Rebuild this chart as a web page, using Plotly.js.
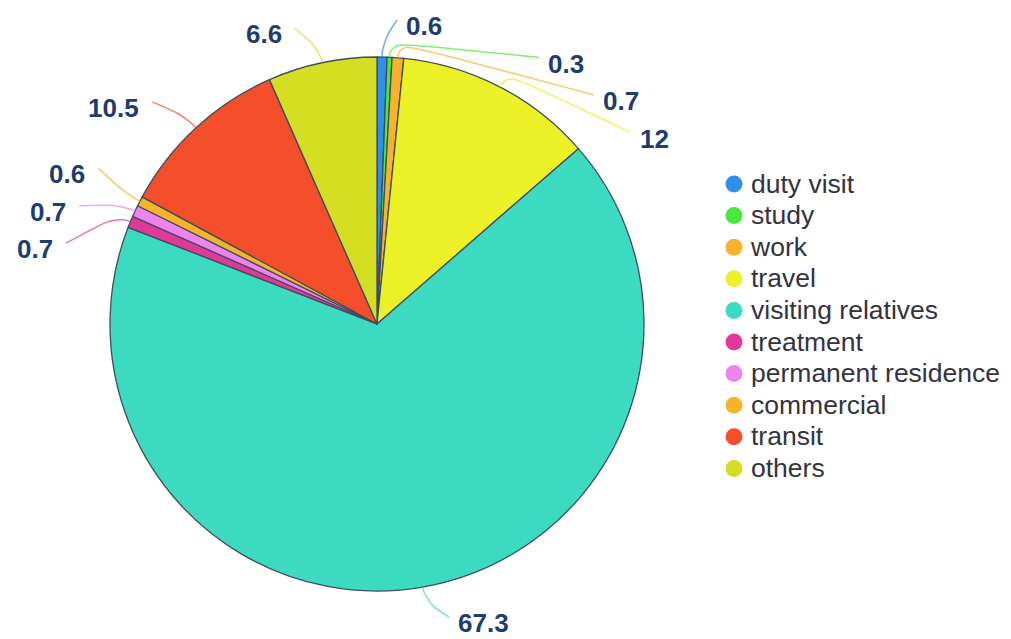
<!DOCTYPE html>
<html><head><meta charset="utf-8">
<script src="https://cdn.plot.ly/plotly-3.0.1.min.js"></script>
<style>html,body{margin:0;padding:0;background:#fff}#chart{width:1011px;height:639px}</style>
</head><body><div id="chart"></div>
<script>
// ---- data ----
const categories = ["duty visit","study","work","travel","visiting relatives","treatment","permanent residence","commercial","transit","others"];
const values = [0.6, 0.3, 0.7, 12, 67.3, 0.7, 0.7, 0.6, 10.5, 6.6];
const valueLabels = ["0.6","0.3","0.7","12","67.3","0.7","0.7","0.6","10.5","6.6"];
const colors = ["#2f8fe9","#4ae83c","#f7b42b","#ecf026","#3cdbc1","#e1399a","#ee83ee","#f7b42b","#f44f2a","#d4de22"];

// ---- layout constants ----
const W = 1011, H = 639;
const CX = 377, CY = 324, R = 267;
const LEN1 = 15, LABEL_R = R + 35, LEN2 = 20, GAP = 37.5, TOP = 20, BOTTOM = H - 22, SMOOTH = 0.6, BIAS = 0.12;
const LEG_X = 734, LEG_Y0 = 184, LEG_DY = 31.6;

const total = values.reduce((a, b) => a + b, 0);
let cum = 0;
const items = values.map((v, i) => {
  const m = (cum + v / 2) / total; cum += v;
  const th = m * 2 * Math.PI;
  const s = Math.sin(th), c = Math.cos(th);
  return {
    i, dir: s >= 0 ? 1 : -1,
    A: [CX + R * s, CY - R * c],
    B: [CX + (R + LEN1) * s, CY - (R + LEN1) * c],
    base: CY - LABEL_R * c
  };
});

function layoutSide(list) {
  list.sort((a, b) => a.base - b.base);
  let clusters = list.map(it => ({ items: [it] }));
  const start = cl => {
    const n = cl.items.length;
    const mean = cl.items.reduce((a, b) => a + b.base, 0) / n;
    const s0 = mean - (n - 1) * GAP / 2 + (n - 1) * GAP * BIAS;
    return Math.min(BOTTOM - (n - 1) * GAP, Math.max(TOP, s0));
  };
  let changed = true;
  while (changed) {
    changed = false;
    for (let k = 0; k < clusters.length - 1; k++) {
      const a = clusters[k], b = clusters[k + 1];
      const aEnd = start(a) + (a.items.length - 1) * GAP;
      if (start(b) - aEnd < GAP) {
        clusters.splice(k, 2, { items: a.items.concat(b.items) });
        changed = true; break;
      }
    }
  }
  clusters.forEach(cl => {
    const s0 = start(cl);
    cl.items.forEach((it, j) => { it.y = s0 + j * GAP; });
  });
}
layoutSide(items.filter(it => it.dir > 0));
layoutSide(items.filter(it => it.dir < 0));

function smoothPath(A, B, C, s) {
  const d1 = Math.hypot(A[0] - B[0], A[1] - B[1]), d2 = Math.hypot(C[0] - B[0], C[1] - B[1]);
  const m = Math.min(d1, d2) * s;
  const p0 = [B[0] + (A[0] - B[0]) * m / d1, B[1] + (A[1] - B[1]) * m / d1];
  const p2 = [B[0] + (C[0] - B[0]) * m / d2, B[1] + (C[1] - B[1]) * m / d2];
  const p1 = [(p0[0] + p2[0]) / 2, (p0[1] + p2[1]) / 2];
  const f = p => p[0].toFixed(2) + ',' + p[1].toFixed(2);
  return `M${f(A)} C${f(p0)} ${f(p0)} ${f(p1)} C${f(p2)} ${f(p2)} ${f(C)}`;
}

const shapes = [], annotations = [];
items.forEach(it => {
  const yForX = (it.y < it.base && it.base > CY) ? it.base : it.y;
  const dy = Math.abs(yForX - CY);
  const dx = dy < LABEL_R ? Math.sqrt(LABEL_R * LABEL_R - dy * dy) : 0;
  const C = [CX + it.dir * (dx + LEN2), it.y];
  shapes.push({
    type: 'path', xref: 'x', yref: 'y', layer: 'above',
    path: smoothPath(it.A, it.B, C, SMOOTH),
    line: { color: colors[it.i], width: 1.5 }, opacity: 0.7
  });
  annotations.push({
    xref: 'x', yref: 'y', x: C[0] + it.dir * (it.dir > 0 ? 7 : 11), y: C[1] + 6,
    xanchor: it.dir > 0 ? 'left' : 'right', yanchor: 'middle', showarrow: false,
    text: valueLabels[it.i],
    font: { family: 'Liberation Sans, Arial, sans-serif', size: 26, color: '#1e3c70', weight: 700 }
  });
});

const pie = {
  type: 'pie', values: values, labels: categories, sort: false,
  direction: 'clockwise', rotation: 0, textinfo: 'none', showlegend: false,
  marker: { colors: colors, line: { color: '#3e4e5e', width: 1.3 } },
  domain: { x: [(CX - R) / W, (CX + R) / W], y: [1 - (CY + R) / H, 1 - (CY - R) / H] },
  hoverinfo: 'label+value'
};
const legY = categories.map((_, i) => LEG_Y0 + i * LEG_DY);
const legMarkers = {
  type: 'scatter', mode: 'markers', x: categories.map(() => LEG_X), y: legY,
  marker: { size: 17, color: colors }, showlegend: false, hoverinfo: 'skip'
};
const legText = {
  type: 'scatter', mode: 'text', x: categories.map(() => LEG_X + 17), y: legY.map(v => v + 2),
  text: categories, textposition: 'middle right',
  textfont: { family: 'Liberation Sans, Arial, sans-serif', size: 26.5, color: '#333340' },
  showlegend: false, hoverinfo: 'skip'
};

const layout = {
  width: W, height: H, margin: { l: 0, r: 0, t: 0, b: 0 },
  paper_bgcolor: '#fff', plot_bgcolor: 'rgba(0,0,0,0)',
  xaxis: { range: [0, W], visible: false, fixedrange: true },
  yaxis: { range: [H, 0], visible: false, fixedrange: true },
  shapes: shapes, annotations: annotations, showlegend: false
};
Plotly.newPlot('chart', [legMarkers, legText, pie], layout, { displayModeBar: false, staticPlot: true });
</script>
</body></html>
